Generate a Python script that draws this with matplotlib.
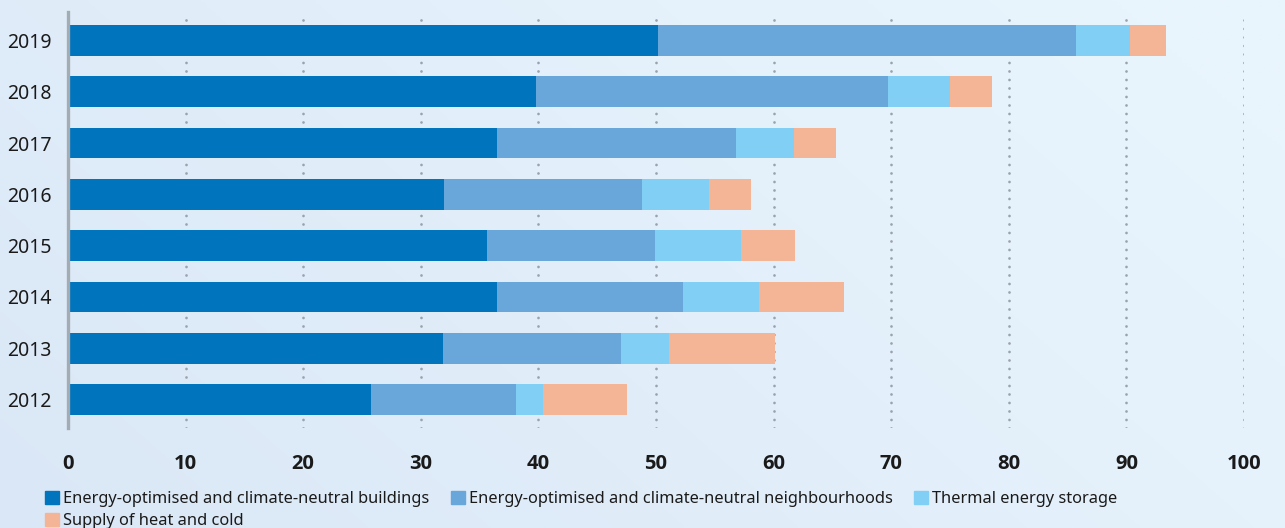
import numpy as np
import matplotlib
matplotlib.use("Agg")
import matplotlib.pyplot as plt
from matplotlib.patches import Patch
from matplotlib import font_manager as fm

years = ["2012", "2013", "2014", "2015", "2016", "2017", "2018", "2019"]
buildings      = [25.8, 31.9, 36.5, 35.6, 32.0, 36.5, 39.8, 50.2]
neighbourhoods = [12.3, 15.1, 15.8, 14.3, 16.8, 20.3, 29.9, 35.5]
thermal        = [2.3, 4.1, 6.5, 7.3, 5.7, 4.9, 5.3, 4.6]
supply         = [7.1, 9.0, 7.2, 4.6, 3.6, 3.6, 3.6, 3.1]
series_names = ["Energy-optimised and climate-neutral buildings",
                "Energy-optimised and climate-neutral neighbourhoods",
                "Thermal energy storage",
                "Supply of heat and cold"]
colors = ["#0074bd", "#69a6d9", "#82cff5", "#f4b596"]
xticks = [0, 10, 20, 30, 40, 50, 60, 70, 80, 90, 100]
xticklabels = ["0", "10", "20", "30", "40", "50", "60", "70", "80", "90", "100"]

plt.rcParams['font.family'] = ['Noto Sans', 'DejaVu Sans']

W, H = 1285, 528
fig = plt.figure(figsize=(W/100, H/100), dpi=100)

# background gradient
bg = fig.add_axes([0, 0, 1, 1], zorder=-10)
gx, gy = np.meshgrid(np.linspace(0, 1, 256), np.linspace(0, 1, 256))
t = np.clip(0.75*gx + 0.35*gy, 0, 1)
c0 = np.array([218, 231, 246]) / 255.0
c1 = np.array([233, 245, 253]) / 255.0
img = c0[None, None, :]*(1-t[..., None]) + c1[None, None, :]*t[..., None]
bg.imshow(img, aspect='auto', origin='lower', extent=[0, 1, 0, 1])
bg.axis('off')

ax = fig.add_axes([68/W, 1-428/H, (1244-68)/W, (428-12)/H])
ax.patch.set_alpha(0)

y = np.arange(len(years))
left = np.zeros(len(years))
data = [buildings, neighbourhoods, thermal, supply]
for vals, col, name in zip(data, colors, series_names):
    ax.barh(y, vals, left=left, height=0.6, color=col, label=name, zorder=2)
    left = left + np.array(vals)

ax.set_xlim(0, 100)
ax.set_ylim(-0.556, len(years) - 1 + 0.556)
ax.set_yticks(y)
ax.set_yticklabels(years, fontsize=14, color="#1a1a1a")
ax.set_xticks(xticks)
bold_fp = fm.FontProperties(family=['Open Sans', 'DejaVu Sans'], weight='bold', size=14.5)
ax.set_xticklabels(xticklabels, fontproperties=bold_fp, color="#1a1a1a")
ax.tick_params(axis='both', length=0)
ax.tick_params(axis='x', pad=19)
ax.tick_params(axis='y', pad=12)

for s in ['top', 'right', 'bottom']:
    ax.spines[s].set_visible(False)
ax.spines['left'].set_color('#a3abb3')
ax.spines['left'].set_linewidth(2.4)
ax.spines['left'].set_zorder(3)

for xv in xticks[1:]:
    ax.axvline(xv, color='#9aa3ad', linewidth=2.0, linestyle=(0, (0.01, 3.05)),
               dash_capstyle='round', zorder=1)

handles = [Patch(color=c) for c in colors]
order = [0, 3, 1, 2]
leg = fig.legend([handles[i] for i in order], [series_names[i] for i in order],
                 ncol=3, loc='upper left', bbox_to_anchor=(45/W, 1-491/H),
                 frameon=False, fontsize=11.8, handlelength=0.85, handleheight=0.85,
                 handletextpad=0.25, columnspacing=1.3, labelspacing=0.35,
                 borderaxespad=0, borderpad=0)
for txt in leg.get_texts():
    txt.set_color('#1a1a1a')

fig.savefig("out.png", dpi=100)
